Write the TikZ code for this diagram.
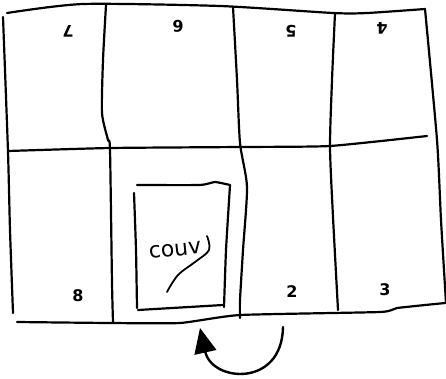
\documentclass[tikz,border=0pt]{standalone}
\usepackage{fontspec}
\setmainfont{DejaVu Sans}
\usetikzlibrary{arrows.meta}
\begin{document}
\begin{tikzpicture}[x=1pt,y=-1pt,
  ink/.style={line width=2.2pt,line cap=round,line join=round},
  numlabel/.style={font=\fontsize{16}{16}\selectfont\bfseries,inner sep=0pt},
  flipnum/.style={numlabel,rotate=180}]
\useasboundingbox (0,0) rectangle (446,378);
% outer border and grid
\draw[ink] plot[smooth,tension=0.4] coordinates {(7,13) (83,4) (220,6) (333,13) (367,13) (425,9)};
\draw[ink] plot[smooth,tension=0.4] coordinates {(425,9) (437,140) (441,220) (446,303)};
\draw[ink] plot[smooth,tension=0.4] coordinates {(3,17) (8,152) (10,230) (13,313)};
\draw[ink] plot[smooth,tension=0.3] coordinates {(17,322) (110,323) (180,323) (240,315) (380,312) (397,308) (445,303)};
\draw[ink] plot[smooth,tension=0.3] coordinates {(8,151) (110,148) (240,147) (330,146) (427,136)};
\draw[ink] plot[smooth,tension=0.4] coordinates {(106,5) (103,60) (102,113) (108,140) (110,150) (112,283) (113,322)};
\draw[ink] plot[smooth,tension=0.4] coordinates {(233,7) (237,80) (240,143) (247,187) (243,250) (240,300) (240,318)};
\draw[ink] plot[smooth,tension=0.4] coordinates {(335,13) (332,80) (330,147) (333,217) (338,310)};
% inner card
\draw[ink] plot[smooth,tension=0.3] coordinates {(137,185) (200,185) (215,182) (230,185)};
\draw[ink] plot[smooth,tension=0.3] coordinates {(230,185) (226,250) (224,307)};
\draw[ink] plot[smooth,tension=0.3] coordinates {(138,310) (223,305)};
\draw[ink] plot[smooth,tension=0.3] coordinates {(134,193) (136,250) (137,308)};
\node[inner sep=0pt,rotate=6,font=\fontsize{22}{22}\selectfont] (couv) at (175,250) {couv};
\draw[ink,line width=1.8pt] plot[smooth,tension=0.6] coordinates {(207,236) (209,250) (195,262) (178,275) (167,292)};
% numbers
\node[flipnum] (n7) at (68,31) {7};
\node[flipnum] (n6) at (178,26) {6};
\node[flipnum] (n5) at (291,31) {5};
\node[flipnum] (n4) at (382,28) {4};
\node[numlabel] (n8) at (78,296) {8};
\node[numlabel] (n2) at (292,292) {2};
\node[numlabel] (n3) at (385,290) {3};
% arrow
\coordinate (as) at (283,327);
\coordinate (ae) at (200,328);
\draw[ink,line width=2.4pt,-{Triangle[length=25pt,width=22pt]}] (as) .. controls (282,388) and (212,382) .. (ae);
\end{tikzpicture}
\end{document}
